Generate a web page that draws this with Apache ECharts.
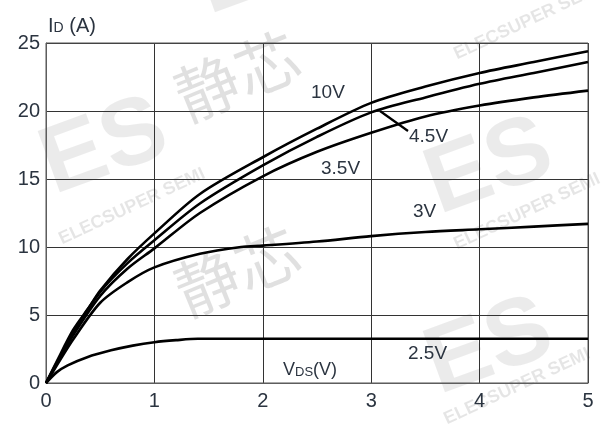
<!DOCTYPE html>
<html><head><meta charset="utf-8">
<script src="https://cdn.jsdelivr.net/npm/echarts@6/dist/echarts.min.js"></script>
<style>html,body{margin:0;padding:0;background:#fff}#c{width:601px;height:424px}</style>
</head><body><div id="c"></div>
<script>
var xTicks = [0,1,2,3,4,5];
var yTicks = [0,5,10,15,20,25];
var curveNames = ['10V','4.5V','3.5V','3V','2.5V'];
var vds10 = [0,0.1,0.25,0.4,0.5,0.75,1,1.42,2,2.5,3,3.5,4,4.5,5];
var id10  = [0,1.6,3.9,5.6,6.8,9.1,11.0,13.9,16.6,18.7,20.6,21.8,22.8,23.6,24.4];
var vds45 = [0,0.1,0.25,0.5,0.75,1,1.42,2,2.5,3,3.5,4,4.5,5];
var id45  = [0,1.5,3.7,6.7,8.8,10.5,13.2,16.0,18.1,19.9,21.0,22.0,22.8,23.6];
var vds35 = [0,0.1,0.25,0.5,0.75,1,1.42,2,2.5,3,3.5,4,4.5,5];
var id35  = [0,1.4,3.5,6.4,8.4,9.9,12.5,15.2,17.0,18.4,19.6,20.4,21.0,21.5];
var vds3  = [0,0.1,0.25,0.5,0.75,1,1.42,1.8,2,2.5,3,3.5,4,4.5,5];
var id3   = [0,1.3,3.2,5.9,7.4,8.5,9.5,10.0,10.1,10.4,10.8,11.1,11.3,11.5,11.7];
var vds25 = [0,0.1,0.2,0.38,0.6,0.8,1,1.2,1.4,2,3,4,5];
var id25  = [0,0.8,1.3,1.9,2.4,2.75,3.0,3.15,3.25,3.25,3.25,3.25,3.25];

function pairs(xs, ys){ return xs.map(function(x,i){return [x, ys[i]];}); }
var chart = echarts.init(document.getElementById('c'));
var F = 'Liberation Sans, Arial, sans-serif';
var TC = '#2b3440';
function mk(name, xs, ys){
  return {name:name, type:'line', data:pairs(xs,ys), smooth:0.3, showSymbol:false,
    lineStyle:{color:'#000', width:2.6}, z:5, silent:true};
}
var wm = [];
function wmText(t, x, y, rot, size, col, bold, ff){
  wm.push({type:'text', x:x, y:y, rotation:rot*Math.PI/180, z:-10, silent:true,
    style:{text:t, fill:col, align:'left', verticalAlign:'middle', font:(bold?'bold ':'')+size+'px '+(ff||F)}});
}
var CJK = '"Noto Sans CJK SC", sans-serif';
// watermarks
wmText('静芯', 178, 100, 22, 64, 'rgba(0,0,0,0.12)', false, CJK);
wmText('静芯', 178, 295, 22, 64, 'rgba(0,0,0,0.12)', false, CJK);
wmText('ES', 45, 170, 20, 95, 'rgba(0,0,0,0.08)', true);
wmText('ES', 430, 190, 20, 95, 'rgba(0,0,0,0.08)', true);
wmText('ES', 430, 370, 20, 95, 'rgba(0,0,0,0.08)', true);
wmText('ES', 200, -10, 20, 95, 'rgba(0,0,0,0.08)', true);
wmText('ELECSUPER SEMI', 60, 240, 25, 18, 'rgba(0,0,0,0.10)', true);
wmText('ELECSUPER SEMI', 455, 245, 25, 18, 'rgba(0,0,0,0.10)', true);
wmText('ELECSUPER SEMI', 455, 55, 25, 18, 'rgba(0,0,0,0.10)', true);
wmText('ELECSUPER SEMI', 445, 420, 25, 18, 'rgba(0,0,0,0.10)', true);

var option = {
  animation:false,
  backgroundColor:'#fff',
  grid:{left:46, right:13, top:43, bottom:41},
  xAxis:{type:'value', min:xTicks[0], max:xTicks[xTicks.length-1], interval:1,
    axisLine:{show:true, lineStyle:{color:'#666', width:1}}, axisTick:{show:false},
    splitLine:{show:true, lineStyle:{color:'#333', width:1}},
    axisLabel:{fontSize:20, color:TC, fontFamily:F, margin:8,
      formatter:function(v){return xTicks.indexOf(v)>=0?String(v):'';}}},
  yAxis:{type:'value', min:yTicks[0], max:yTicks[yTicks.length-1], interval:5,
    axisLine:{show:true, lineStyle:{color:'#666', width:1}}, axisTick:{show:false},
    splitLine:{show:true, lineStyle:{color:'#333', width:1}},
    axisLabel:{fontSize:20, color:TC, fontFamily:F, margin:6,
      formatter:function(v){return yTicks.indexOf(v)>=0?String(v):'';}}},
  graphic:wm.concat([
    {type:'rect', shape:{x:46,y:43,width:542,height:340}, style:{fill:'none', stroke:'#555', lineWidth:1}, z:3, silent:true},
    {type:'text', x:48, y:16, z:10, style:{text:'{a|I}{b|D}{a| (A)}', rich:{a:{fontSize:20, fill:TC, fontFamily:F}, b:{fontSize:14, fill:TC, fontFamily:F, padding:[4,0,0,0]}}}},
    {type:'text', x:283, y:361, z:10, style:{text:'{a|V}{b|DS}{a|(V)}', rich:{a:{fontSize:18, fill:TC, fontFamily:F}, b:{fontSize:13, fill:TC, fontFamily:F, padding:[4,0,0,0]}}}},
    {type:'text', x:311, y:83, z:10, style:{text:curveNames[0], fontSize:19, fill:TC, fontFamily:F}},
    {type:'text', x:409, y:127, z:10, style:{text:curveNames[1], fontSize:19, fill:TC, fontFamily:F}},
    {type:'text', x:321, y:159, z:10, style:{text:curveNames[2], fontSize:19, fill:TC, fontFamily:F}},
    {type:'text', x:413, y:202, z:10, style:{text:curveNames[3], fontSize:19, fill:TC, fontFamily:F}},
    {type:'text', x:408, y:344, z:10, style:{text:curveNames[4], fontSize:19, fill:TC, fontFamily:F}},
    {type:'line', z:10, shape:{x1:380,y1:111,x2:408,y2:131}, style:{stroke:'#000', lineWidth:2.2}}
  ]),
  series:[mk(curveNames[0],vds10,id10), mk(curveNames[1],vds45,id45), mk(curveNames[2],vds35,id35), mk(curveNames[3],vds3,id3), mk(curveNames[4],vds25,id25)]
};
chart.setOption(option);
</script></body></html>
